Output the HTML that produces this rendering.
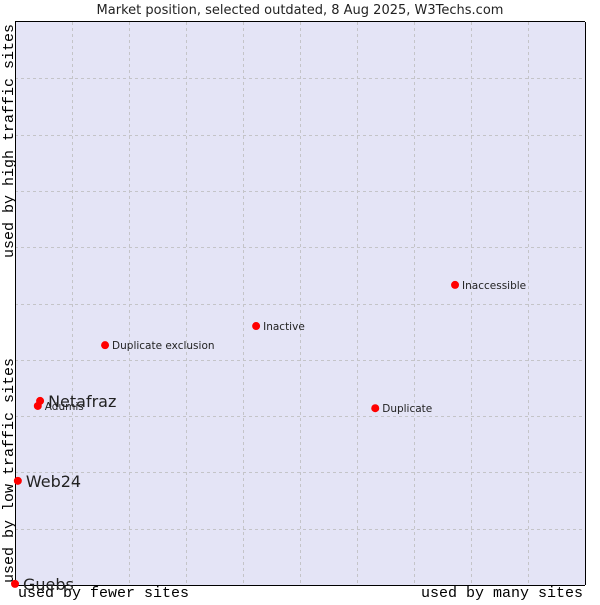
<!DOCTYPE html>
<html><head><meta charset="utf-8"><style>
body{margin:0;background:#fff;}
svg text{font-family:"DejaVu Sans","Liberation Sans",sans-serif;}
</style></head><body>
<svg id="chart" width="600" height="600" xmlns="http://www.w3.org/2000/svg">
<text x="300" y="14" font-size="13" text-anchor="middle" fill="#222">Market position, selected outdated, 8 Aug 2025, W3Techs.com</text>
<rect x="15" y="22" width="570" height="563" fill="#e4e4f6"/>
<g id="grid"></g>
<line x1="15.5" y1="22" x2="15.5" y2="585" stroke="#000"/>
<line x1="15" y1="585.5" x2="585" y2="585.5" stroke="#000"/>
<line x1="15" y1="21.5" x2="585" y2="21.5" stroke="#000"/>
<line x1="585.5" y1="22" x2="585.5" y2="585" stroke="#000"/>
<text transform="translate(13,258) rotate(-90)" font-size="15" style="font-family:'Liberation Mono',monospace">used by high traffic sites</text>
<text transform="translate(13,583) rotate(-90)" font-size="15" style="font-family:'Liberation Mono',monospace">used by low traffic sites</text>
<text x="18" y="597" font-size="15" style="font-family:'Liberation Mono',monospace">used by fewer sites</text>
<text x="583" y="597" font-size="15" text-anchor="end" style="font-family:'Liberation Mono',monospace">used by many sites</text>
<g id="points"></g>
</svg>
<script>
const names=["Netafraz","Adumis","Web24","Guebs","Duplicate exclusion","Inactive","Inaccessible","Duplicate"];
const xVals=[4.4,4.0,0.5,0.0,15.8,42.3,77.2,63.2];
const yVals=[32.7,31.8,18.5,0.2,42.6,46.0,53.3,31.4];
const bigLabel=[true,false,true,true,false,false,false,false];
const gridTicks=[10,20,30,40,50,60,70,80,90];
const NS="http://www.w3.org/2000/svg";
function sx(v){return 15+v*5.7;}
function sy(v){return 585-v*5.63;}
const grid=document.getElementById('grid');
gridTicks.forEach(t=>{
  const v=document.createElementNS(NS,'line');
  
  
  v.setAttribute('x1',Math.round(sx(t))+.5);v.setAttribute('x2',Math.round(sx(t))+.5);
  v.setAttribute('y1',22);v.setAttribute('y2',585);
  v.setAttribute('stroke','#c4c4c8');v.setAttribute('stroke-dasharray','3,3');
  grid.appendChild(v);
  const h=document.createElementNS(NS,'line');
  
  
  h.setAttribute('y1',Math.round(sy(t))+.5);h.setAttribute('y2',Math.round(sy(t))+.5);
  h.setAttribute('x1',15);h.setAttribute('x2',585);
  h.setAttribute('stroke','#c4c4c8');h.setAttribute('stroke-dasharray','3,3');
  grid.appendChild(h);
});
const pts=document.getElementById('points');
names.forEach((n,i)=>{
  const x=sx(xVals[i]),y=sy(yVals[i]);
  const c=document.createElementNS(NS,'circle');
  
  
  c.setAttribute('cx',x);c.setAttribute('cy',y);c.setAttribute('r',4);c.setAttribute('fill','#ff0000');
  pts.appendChild(c);
  const t=document.createElementNS(NS,'text');
  
  
  t.setAttribute('x',x+(bigLabel[i]?8:7));t.setAttribute('y',y+(bigLabel[i]?6:4));
  t.setAttribute('font-size',bigLabel[i]?16:10.5);t.setAttribute('fill','#222');
  t.textContent=n;
  pts.appendChild(t);
});
</script>
</body></html>
